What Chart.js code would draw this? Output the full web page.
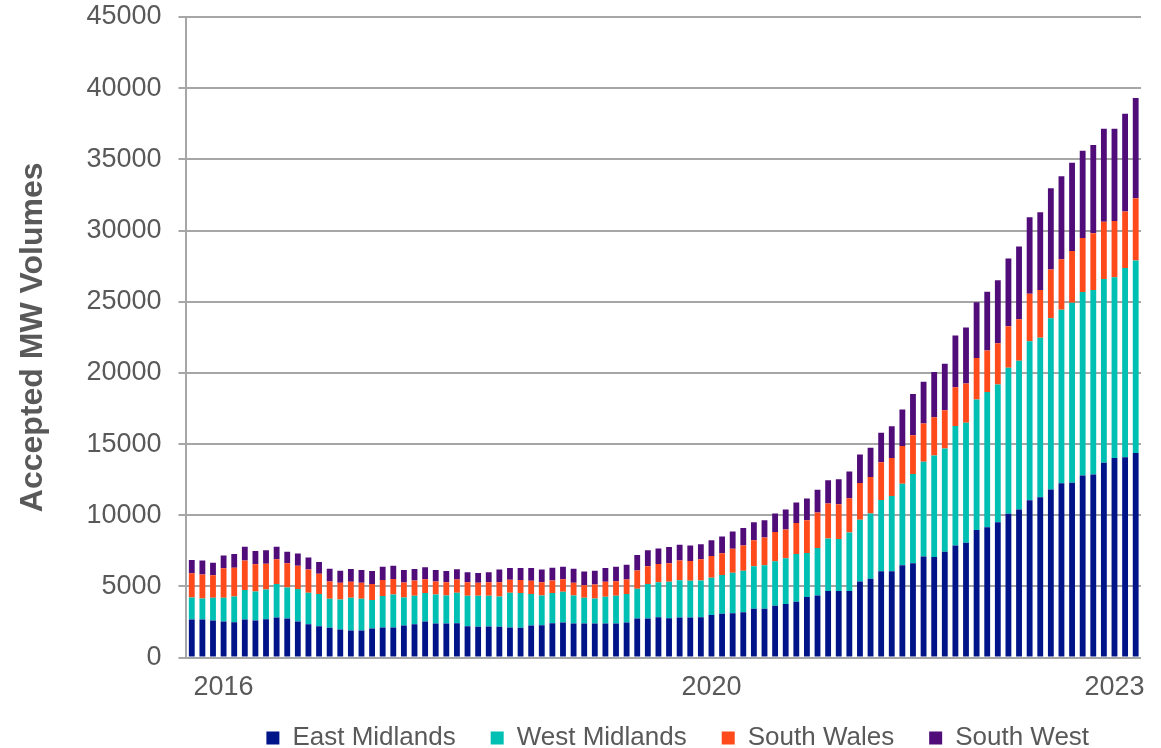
<!DOCTYPE html>
<html>
<head>
<meta charset="utf-8">
<script src="https://cdn.jsdelivr.net/npm/chart.js@4/dist/chart.umd.min.js"></script>
<style>
  html, body { margin: 0; padding: 0; background: #fff; }
  #wrap { width: 1161px; height: 748px; }
</style>
</head>
<body>
<div id="wrap"><canvas id="volumes"></canvas></div>
<script>
// accepted MW volumes per region, one value per bar
const eastMidlands = [
  2680, 2680, 2610, 2540, 2490, 2680, 2610, 2700, 2820, 2750,
  2540, 2350, 2210, 2090, 1970, 1900, 1900, 2040, 2110, 2110,
  2250, 2350, 2540, 2390, 2390, 2420, 2210, 2160, 2180, 2160,
  2110, 2090, 2250, 2280, 2420, 2460, 2390, 2390, 2390, 2390,
  2390, 2460, 2750, 2750, 2840, 2770, 2820, 2820, 2840, 3000,
  3080, 3120, 3190, 3430, 3430, 3640, 3760, 3920, 4250, 4370,
  4670, 4670, 4670, 5350, 5540, 6070, 6070, 6490, 6630, 7110,
  7060, 7430, 7880, 8070, 8960, 9150, 9500, 10110, 10410, 11060,
  11270, 11810, 12240, 12290, 12800, 12860, 13690, 14020, 14070, 14370
];
const westMidlands = [
  1550, 1480, 1600, 1670, 1810, 2070, 2040, 2090, 2350, 2180,
  2280, 2210, 2250, 2040, 2110, 2300, 2230, 2000, 2210, 2320,
  1970, 2000, 2000, 2040, 1970, 2140, 2140, 2180, 2160, 2140,
  2440, 2440, 2210, 2090, 2110, 2160, 1970, 1810, 1760, 1880,
  1950, 2000, 2090, 2420, 2460, 2560, 2610, 2580, 2580, 2610,
  2720, 2840, 2910, 2980, 3050, 3120, 3220, 3360, 3100, 3330,
  3690, 3660, 4110, 4340, 4580, 5000, 5290, 5720, 6270, 6640,
  7130, 7260, 8390, 8420, 9170, 9500, 9680, 10250, 10440, 11160,
  11190, 12020, 12190, 12640, 12890, 12970, 12910, 12700, 13290, 13530
];
const southWales = [
  1690, 1670, 1570, 2070, 2020, 2070, 1900, 1810, 1740, 1690,
  1640, 1620, 1430, 1220, 1170, 1130, 1130, 1130, 1130, 1100,
  1060, 1060, 960, 920, 940, 920, 940, 920, 960, 990,
  920, 920, 940, 920, 890, 890, 890, 890, 990, 1060,
  1030, 1030, 1270, 1240, 1270, 1290, 1390, 1390, 1480, 1530,
  1530, 1690, 1780, 1830, 1950, 2070, 2020, 2180, 2300, 2490,
  2460, 2440, 2420, 2580, 2560, 2650, 2670, 2660, 2720, 2700,
  2700, 2680, 2720, 2770, 2910, 2930, 2910, 2910, 2910, 3340,
  3360, 3440, 3550, 3630, 3790, 3980, 4010, 3950, 3980, 4360
];
const southWest = [
  940, 990, 890, 890, 960, 960, 940, 940, 870, 820,
  850, 850, 820, 890, 850, 890, 890, 920, 940, 920,
  870, 820, 850, 800, 780, 730, 700, 680, 700, 890,
  820, 850, 890, 890, 890, 870, 990, 960, 960, 960,
  1010, 1030, 1100, 1130, 1100, 1150, 1100, 1080, 1060, 1100,
  1170, 1200, 1220, 1270, 1220, 1290, 1410, 1430, 1530, 1600,
  1640, 1760, 1880, 2000, 2070, 2080, 2220, 2560, 2900, 2930,
  3180, 3280, 3630, 3930, 3930, 4120, 4410, 4760, 5110, 5380,
  5460, 5700, 5840, 6210, 6130, 6190, 6540, 6480, 6860, 7050
];

// only three bars carry a year label on the x axis
const yearTickIndex = [3, 49, 87];
const yearTickText = ['2016', '2020', '2023'];

const categories = eastMidlands.map((v, i) => {
  const k = yearTickIndex.indexOf(i);
  return k >= 0 ? yearTickText[k] : '';
});

const textGrey = '#595959';
const gridGrey = '#A6A6A6';

// legend sits closer to the axis labels than Chart.js would put it
const nudgeLegend = {
  id: 'nudgeLegend',
  afterLayout(chart) {
    chart.legend.top -= 28;
    chart.legend.left += 14;
    chart.legend.right += 14;
  }
};

const ctx = document.querySelector('#volumes').getContext('2d');
new Chart(ctx, {
  type: 'bar',
  data: {
    labels: categories,
    datasets: [
      { label: 'East Midlands', data: eastMidlands, backgroundColor: '#001489' },
      { label: 'West Midlands', data: westMidlands, backgroundColor: '#00BFB3' },
      { label: 'South Wales', data: southWales, backgroundColor: '#FF4A1C' },
      { label: 'South West', data: southWest, backgroundColor: '#500D7A' }
    ]
  },
  plugins: [nudgeLegend],
  options: {
    responsive: true,
    maintainAspectRatio: false,
    animation: false,
    datasets: {
      bar: { categoryPercentage: 1, barPercentage: 0.55 }
    },
    layout: {
      padding: { top: 17, right: 20, left: 0, bottom: 0 }
    },
    plugins: {
      tooltip: { enabled: false },
      legend: {
        position: 'bottom',
        fullSize: false,
        maxHeight: 30,
        labels: {
          boxWidth: 13,
          boxHeight: 13,
          padding: 35,
          color: textGrey,
          font: { family: 'Liberation Sans, Arial, sans-serif', size: 26 }
        }
      }
    },
    scales: {
      x: {
        stacked: true,
        grid: { display: false, drawTicks: false },
        border: { display: false },
        ticks: {
          autoSkip: false,
          maxRotation: 0,
          padding: 14,
          color: textGrey,
          font: { family: 'Liberation Sans, Arial, sans-serif', size: 27 }
        }
      },
      y: {
        stacked: true,
        min: 0,
        max: 45000,
        afterFit: (scale) => { scale.paddingTop = 0; },
        grid: {
          color: gridGrey,
          lineWidth: 2,
          tickLength: 8
        },
        border: { color: gridGrey, width: 2 },
        ticks: {
          stepSize: 5000,
          padding: 17,
          color: textGrey,
          font: { family: 'Liberation Sans, Arial, sans-serif', size: 27 },
          callback: (value) => String(value)
        },
        title: {
          display: true,
          text: 'Accepted MW Volumes',
          color: textGrey,
          padding: { top: 14, bottom: 17 },
          font: { family: 'Liberation Sans, Arial, sans-serif', size: 32, weight: 'bold' }
        }
      }
    }
  }
});
</script>
</body>
</html>
